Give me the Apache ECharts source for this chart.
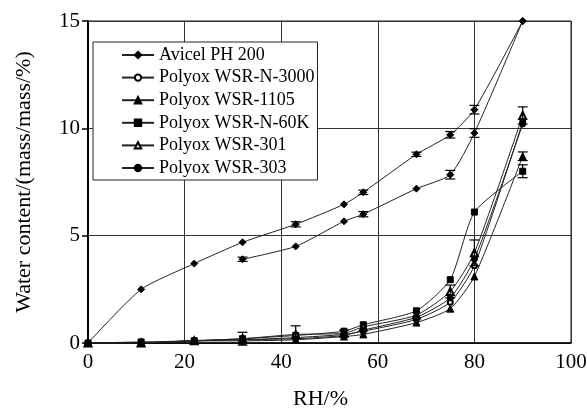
<!DOCTYPE html>
<html lang="en">
<head>
    <meta charset="UTF-8">
    <title>Water sorption</title>
    <script src="https://cdn.jsdelivr.net/npm/echarts@6/dist/echarts.min.js"></script>
    <style>
        body{margin:0;background:#fff;}
        #main{width:587px;height:410px;}
    </style>
</head>
<body>
<div id="main"></div>
<script>
    // RH points
    var rh = [0, 11, 22, 32, 43, 53, 57, 68, 75, 80, 90];
    var rhDes = [32, 43, 53, 57, 68, 75, 80, 90];

    var avicel = [0, 2.5, 3.7, 4.69, 5.53, 6.46, 7.02, 8.79, 9.7, 10.87, 15.0];
    var avicel2 = [3.9, 4.5, 5.67, 6.0, 7.19, 7.84, 9.78, 15.0];
    var wsrN3000 = [0, 0, 0.12, 0.15, 0.25, 0.4, 0.55, 1.1, 1.9, 3.6, 10.3];
    var wsr1105 = [0, 0, 0.1, 0.1, 0.15, 0.3, 0.4, 0.95, 1.6, 3.1, 8.7];
    var wsrN60K = [0, 0.05, 0.1, 0.2, 0.35, 0.55, 0.85, 1.5, 2.95, 6.1, 8.0];
    var wsr301 = [0, 0, 0.1, 0.2, 0.4, 0.45, 0.75, 1.3, 2.4, 4.2, 10.6];
    var wsr303 = [0, 0, 0.1, 0.15, 0.2, 0.35, 0.6, 1.2, 2.1, 3.9, 10.2];

    // error bars: x, y, half width
    var errX = [43, 57, 68, 75, 80, 32, 57, 75, 80, 32, 43, 53, 75, 80, 90, 90, 90];
    var errY = [5.53, 7.02, 8.79, 9.7, 10.87, 3.9, 6.0, 7.84, 9.78, 0.2, 0.4, 0.45, 2.4, 4.2, 10.6, 8.7, 8.0];
    var errE = [0.12, 0.1, 0.1, 0.15, 0.2, 0.1, 0.12, 0.2, 0.2, 0.3, 0.4, 0.15, 0.3, 0.6, 0.4, 0.2, 0.3];

    var names = ['Avicel PH 200', 'Polyox WSR-N-3000', 'Polyox WSR-1105', 'Polyox WSR-N-60K', 'Polyox WSR-301', 'Polyox WSR-303'];

    function pairs(xs, ys) {
        var out = [];
        for (var i = 0; i < xs.length; i++) out.push([xs[i], ys[i]]);
        return out;
    }

    var errData = [];
    for (var i = 0; i < errX.length; i++) {
        errData.push([errX[i], errY[i] - errE[i], errY[i] + errE[i]]);
    }

    function lineSeries(name, data, symbol, size) {
        return {
            name: name,
            type: 'line',
            data: data,
            symbol: symbol,
            symbolSize: size,
            smooth: 0.2,
            lineStyle: {color: '#222', width: 1},
            itemStyle: {color: '#000', borderColor: '#000', borderWidth: 1},
            z: 3
        };
    }

    var font = '"Liberation Serif", "Times New Roman", serif';
    var myChart = echarts.init(document.getElementById('main'));
    myChart.setOption({
        animation: false,
        backgroundColor: '#fff',
        grid: {
            left: 88, right: 16, top: 21, bottom: 67,
            outerBoundsMode: 'none',
            containLabel: false,
            show: true, borderColor: '#222', borderWidth: 1
        },
        legend: {
            data: names,
            orient: 'vertical',
            left: 93, top: 42,
            padding: [4, 3, 3, 28],
            itemWidth: 32, itemHeight: 8, itemGap: 4.6,
            backgroundColor: '#fff',
            borderColor: '#222', borderWidth: 1,
            textStyle: {fontFamily: font, fontSize: 18, color: '#000', lineHeight: 18}
        },
        xAxis: {
            type: 'value',
            min: 0, max: 100, interval: 20,
            name: 'RH/%',
            nameLocation: 'middle',
            nameGap: 45,
            nameTextStyle: {fontFamily: font, fontSize: 22, color: '#000', padding: [0, 18, 0, 0]},
            axisLine: {lineStyle: {color: '#000', width: 1.5}},
            axisTick: {show: false},
            axisLabel: {fontFamily: font, fontSize: 21, color: '#000', margin: 9},
            splitLine: {lineStyle: {color: '#333', width: 1}}
        },
        yAxis: {
            type: 'value',
            min: 0, max: 15, interval: 5,
            name: 'Water content/(mass/mass/%)',
            nameLocation: 'middle',
            nameGap: 53,
            nameTextStyle: {fontFamily: font, fontSize: 22, color: '#000'},
            axisLine: {show: true, lineStyle: {color: '#000', width: 2}},
            axisTick: {show: true, inside: false, length: 6, lineStyle: {color: '#000', width: 1.5}},
            axisLabel: {fontFamily: font, fontSize: 21, color: '#000', margin: 8},
            splitLine: {lineStyle: {color: '#333', width: 1}}
        },
        series: [
            lineSeries(names[0], pairs(rh, avicel), 'diamond', 7),
            lineSeries(names[1], pairs(rh, wsrN3000), 'emptyCircle', 5),
            lineSeries(names[2], pairs(rh, wsr1105), 'triangle', 7),
            lineSeries(names[3], pairs(rh, wsrN60K), 'rect', 6),
            lineSeries(names[4], pairs(rh, wsr301), 'emptyTriangle', 7),
            lineSeries(names[5], pairs(rh, wsr303), 'circle', 6),
            lineSeries('Avicel PH 200 (2)', pairs(rhDes, avicel2), 'diamond', 7),
            {
                name: 'error',
                type: 'custom',
                data: errData,
                z: 4,
                renderItem: function (params, api) {
                    var x = api.value(0);
                    var lo = api.coord([x, api.value(1)]);
                    var hi = api.coord([x, api.value(2)]);
                    var w = 5;
                    var st = {stroke: '#000', lineWidth: 1.2};
                    return {
                        type: 'group',
                        children: [
                            {type: 'line', shape: {x1: lo[0], y1: lo[1], x2: hi[0], y2: hi[1]}, style: st},
                            {type: 'line', shape: {x1: lo[0] - w, y1: lo[1], x2: lo[0] + w, y2: lo[1]}, style: st},
                            {type: 'line', shape: {x1: hi[0] - w, y1: hi[1], x2: hi[0] + w, y2: hi[1]}, style: st}
                        ]
                    };
                }
            }
        ]
    });
</script>
</body>
</html>
